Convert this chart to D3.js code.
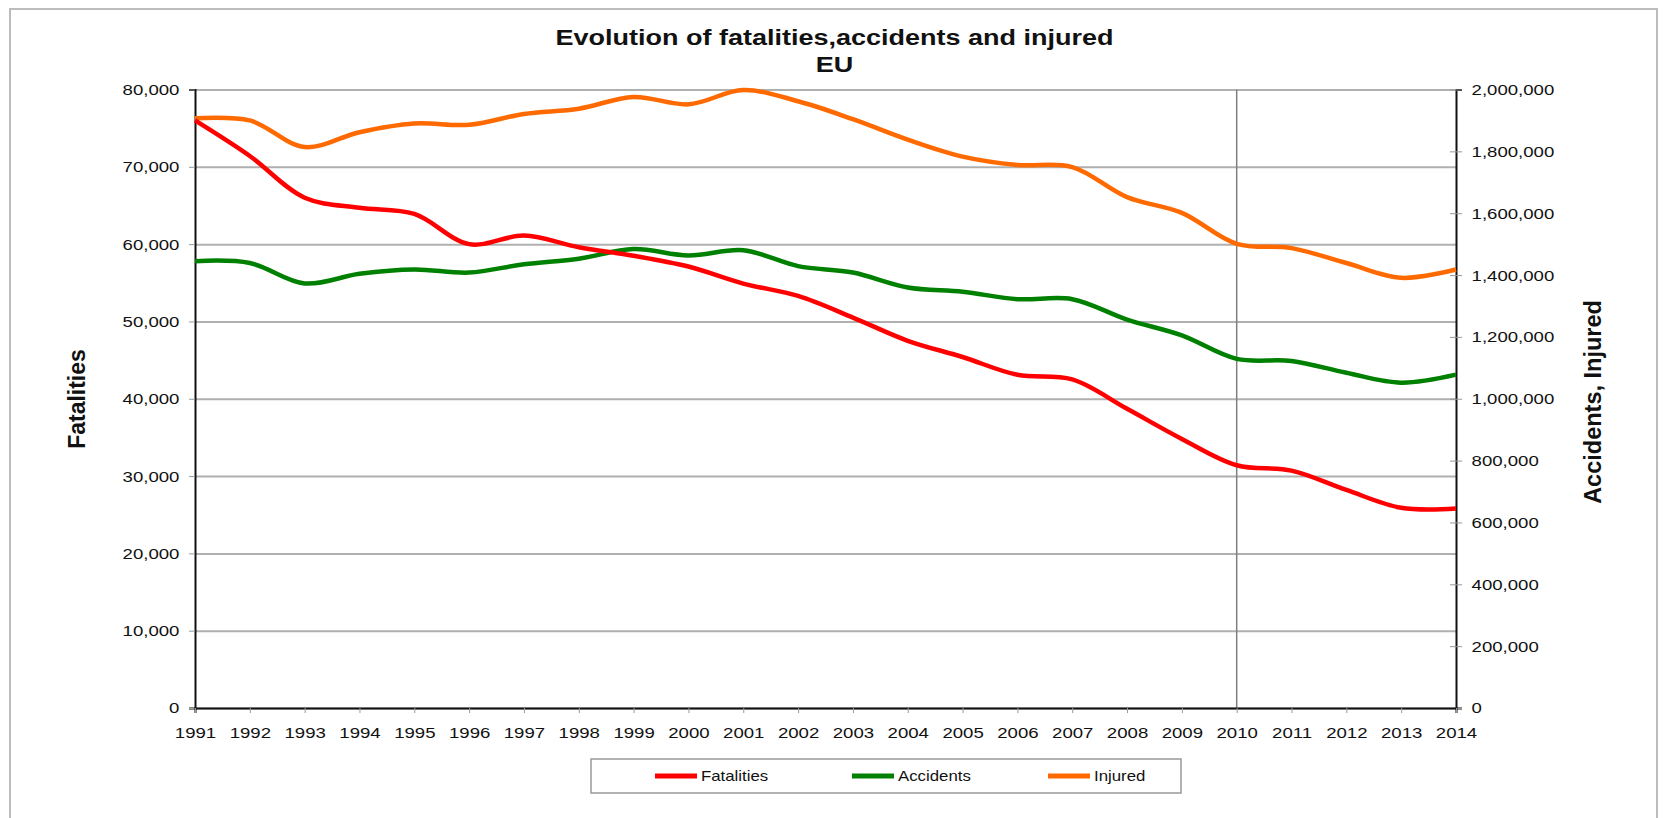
<!DOCTYPE html>
<html>
<head>
<meta charset="utf-8">
<script src="https://cdn.jsdelivr.net/npm/d3@7"></script>
<style>
  body { margin: 0; background: #fff; }
  text { font-family: "Liberation Sans", Arial, sans-serif; fill: #111; }
</style>
</head>
<body>
<div id="vis"></div>
<script>
// values
let years = d3.range(1991, 2015)
let fatalities = [76000, 71400, 66000, 64700, 63900, 60000, 61100, 59600, 58500, 57100, 54900, 53300,
                  50500, 47500, 45400, 43100, 42500, 38700, 34800, 31400, 30700, 28200, 25900, 25800]
let accidents = [1445000, 1439000, 1373000, 1404000, 1418000, 1408000, 1435000, 1453000, 1484000, 1463000,
                 1480000, 1429000, 1408000, 1360000, 1346000, 1322000, 1322000, 1256000, 1205000, 1129000,
                 1122000, 1084000, 1052000, 1078000]
let injured = [1907000, 1900000, 1814000, 1862000, 1890000, 1886000, 1921000, 1938000, 1976000, 1952000,
               1998000, 1962000, 1904000, 1838000, 1783000, 1756000, 1749000, 1652000, 1601000, 1501000,
               1487000, 1439000, 1391000, 1418000]
let leftTicks = d3.range(0, 80001, 10000)
let rightTicks = d3.range(0, 2000001, 200000)
let markedYear = 2010
let seriesNames = ["Fatalities", "Accidents", "Injured"]
let seriesColors = ["#ff0000", "#008000", "#ff6a00"]

const W = 1669, H = 818
const stretch = "scale(1.2,1)"

let svg = d3.select("#vis").append("svg")
    .attr("width", W)
    .attr("height", H)

svg.append("rect")
    .attr("x", 10).attr("y", 9)
    .attr("width", 1647).attr("height", 830)
    .attr("fill", "none")
    .attr("stroke", "#bdbdbd")
    .attr("stroke-width", 2)

let x = d3.scaleLinear().domain([1991, 2014]).range([195, 1456])
let yL = d3.scaleLinear().domain([0, 80000]).range([708, 89.5])
let yR = d3.scaleLinear().domain([0, 2000000]).range([708, 89.5])

// gridlines
svg.append("g")
    .attr("transform", `translate(${x.range()[0]},0)`)
    .call(d3.axisLeft(yL).tickValues(leftTicks).tickSize(-(x.range()[1] - x.range()[0])).tickFormat(""))
    .call(g => g.select(".domain").remove())
    .call(g => g.selectAll("line").attr("stroke", "#b0b0b0").attr("stroke-width", 2))

svg.append("line")
    .attr("x1", x(markedYear)).attr("x2", x(markedYear))
    .attr("y1", yL(80000)).attr("y2", yL(0))
    .attr("stroke", "#808080")
    .attr("stroke-width", 1.5)

// axes
let fmt = d3.format(",")

svg.append("g")
    .attr("transform", `translate(${x.range()[0]},0)`)
    .call(d3.axisLeft(yL).tickValues(leftTicks).tickFormat(fmt).tickSize(6).tickPadding(7))
    .call(g => g.select(".domain").attr("stroke", "#111").attr("stroke-width", 2))
    .call(g => g.selectAll(".tick line").attr("stroke", "#999"))
    .call(g => g.selectAll("text").attr("font-size", 15.5).attr("fill", "#111").attr("transform", stretch))

svg.append("g")
    .attr("transform", `translate(${x.range()[1]},0)`)
    .call(d3.axisRight(yR).tickValues(rightTicks).tickFormat(fmt).tickSize(6).tickPadding(7))
    .call(g => g.select(".domain").attr("stroke", "#111").attr("stroke-width", 2))
    .call(g => g.selectAll(".tick line").attr("stroke", "#999").attr("x1", -6))
    .call(g => g.selectAll("text").attr("font-size", 15.5).attr("fill", "#111").attr("transform", stretch))

svg.append("g")
    .attr("transform", `translate(0,${yL(0)})`)
    .call(d3.axisBottom(x).tickValues(years).tickFormat(d3.format("d")).tickSize(5).tickPadding(14))
    .call(g => g.select(".domain").attr("stroke", "#111").attr("stroke-width", 2))
    .call(g => g.selectAll(".tick line").attr("stroke", "#999"))
    .call(g => g.selectAll("text").attr("font-size", 15.5).attr("fill", "#111").attr("transform", stretch))

// lines
let lineL = d3.line().x((d, i) => x(years[i])).y(d => yL(d)).curve(d3.curveCatmullRom)
let lineR = d3.line().x((d, i) => x(years[i])).y(d => yR(d)).curve(d3.curveCatmullRom)

let series = [
    {values: injured, line: lineR, color: seriesColors[2]},
    {values: accidents, line: lineR, color: seriesColors[1]},
    {values: fatalities, line: lineL, color: seriesColors[0]}
]

svg.append("g")
    .selectAll("path")
    .data(series)
    .join("path")
    .attr("d", d => d.line(d.values))
    .attr("fill", "none")
    .attr("stroke", d => d.color)
    .attr("stroke-width", 4.5)
    .attr("stroke-linejoin", "round")

// titles
let title = svg.append("g").attr("font-weight", "bold").attr("text-anchor", "middle")
title.append("text")
    .attr("transform", `translate(834.5,45) ${stretch}`)
    .attr("font-size", 22.5)
    .text("Evolution of fatalities,accidents and injured")
title.append("text")
    .attr("transform", `translate(834.5,72) ${stretch}`)
    .attr("font-size", 22.5)
    .text("EU")

svg.append("text")
    .attr("transform", "translate(85,399) rotate(-90)")
    .attr("text-anchor", "middle")
    .attr("font-weight", "bold")
    .attr("font-size", 23)
    .text("Fatalities")

svg.append("text")
    .attr("transform", "translate(1601,402) rotate(-90)")
    .attr("text-anchor", "middle")
    .attr("font-weight", "bold")
    .attr("font-size", 23.5)
    .text("Accidents, Injured")

// legend
let legend = svg.append("g")
legend.append("rect")
    .attr("x", 591).attr("y", 759)
    .attr("width", 590).attr("height", 34)
    .attr("fill", "#fff")
    .attr("stroke", "#999")
    .attr("stroke-width", 1.5)

let legendX = [655, 852, 1048]
let item = legend.selectAll("g.item")
    .data(seriesNames)
    .join("g")
    .attr("class", "item")
    .attr("transform", (d, i) => `translate(${legendX[i]},776)`)
item.append("line")
    .attr("x1", 0).attr("x2", 42)
    .attr("stroke", (d, i) => seriesColors[i])
    .attr("stroke-width", 5)
item.append("text")
    .attr("transform", `translate(46,5) ${stretch}`)
    .attr("font-size", 14)
    .text(d => d)
</script>
</body>
</html>
